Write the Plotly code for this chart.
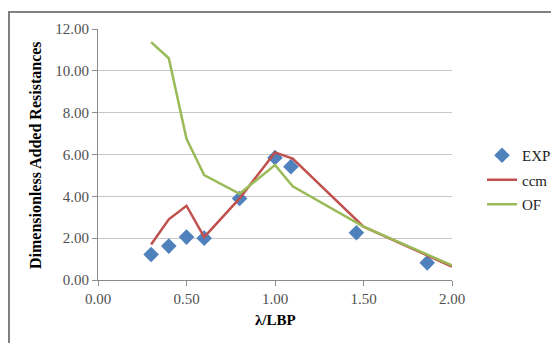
import plotly.graph_objects as go

exp_x = [0.30, 0.40, 0.50, 0.60, 0.80, 1.00, 1.09, 1.46, 1.86]
exp_y = [1.22, 1.62, 2.05, 2.00, 3.90, 5.85, 5.42, 2.26, 0.82]

ccm_x = [0.30, 0.40, 0.50, 0.60, 0.80, 1.00, 1.10, 1.50, 2.00]
ccm_y = [1.70, 2.90, 3.55, 2.05, 3.90, 6.10, 5.80, 2.55, 0.64]

of_x = [0.30, 0.40, 0.50, 0.60, 0.80, 1.00, 1.10, 1.50, 2.00]
of_y = [11.37, 10.60, 6.75, 5.02, 4.12, 5.50, 4.48, 2.55, 0.70]

x_ticks = [0.0, 0.5, 1.0, 1.5, 2.0]
y_ticks = [0, 2, 4, 6, 8, 10, 12]

FONT = "Liberation Serif, Times New Roman, serif"

fig = go.Figure()
fig.add_trace(go.Scatter(x=exp_x, y=exp_y, mode="markers", name="EXP",
                         legendgroup="a",
                         marker=dict(symbol="diamond", size=12, color="#4F81BD")))
fig.add_trace(go.Scatter(x=ccm_x, y=ccm_y, mode="lines", name="ccm",
                         legendgroup="b",
                         line=dict(color="#C0504D", width=2.5)))
fig.add_trace(go.Scatter(x=of_x, y=of_y, mode="lines", name="OF",
                         legendgroup="c",
                         line=dict(color="#9BBB59", width=2.5)))

# page body has an 8px margin, so figure coords = screen coords - 8
OFF = 8
W, H = 559 - OFF, 343 - OFF
L, R, T, B = 98 - OFF, 452 - OFF, 29 - OFF, 280 - OFF
pw, ph = R - L, B - T

def px(xs):
    return (xs - OFF - L) / pw

def py(ys):
    return (B - (ys - OFF)) / ph

fig.update_layout(
    width=W, height=H,
    margin=dict(l=L, r=W - R, t=T, b=H - B, autoexpand=False),
    paper_bgcolor="white", plot_bgcolor="white",
    font=dict(family=FONT, size=15, color="#595959"),
    showlegend=True,
    legend=dict(x=px(482), y=py(139), xanchor="left", yanchor="top",
                font=dict(family=FONT, size=15, color="#222222"),
                tracegroupgap=2, itemwidth=30, bgcolor="rgba(0,0,0,0)"),
    xaxis=dict(range=[0, 2], tickvals=x_ticks,
               ticktext=[f"{v:.2f}" for v in x_ticks],
               showgrid=False, zeroline=False, automargin=False,
               showline=True, linecolor="#8c8c8c", linewidth=1,
               ticks="outside", ticklen=5, tickcolor="#8c8c8c",
               tickfont=dict(family=FONT, size=15, color="#505050")),
    yaxis=dict(range=[0, 12], tickvals=y_ticks,
               ticktext=[f"{v:.2f}" for v in y_ticks],
               showgrid=True, gridcolor="#c8c8c8", gridwidth=1,
               zeroline=False, automargin=False,
               showline=True, linecolor="#8c8c8c", linewidth=1,
               ticks="outside", ticklen=5, tickcolor="#8c8c8c",
               tickfont=dict(family=FONT, size=15, color="#505050")),
)

# axis titles
fig.add_annotation(xref="paper", yref="paper", x=px(275), y=py(320),
                   text="<b>λ/LBP</b>", showarrow=False,
                   xanchor="center", yanchor="middle",
                   font=dict(family=FONT, size=15, color="#000000"))
fig.add_annotation(xref="paper", yref="paper", x=px(35), y=py(155),
                   text="<b>Dimensionless Added Resistances</b>", showarrow=False,
                   textangle=-90, xanchor="center", yanchor="middle",
                   font=dict(family=FONT, size=16, color="#000000"))

# outer chart border (only top and left edges visible in reference)
fig.add_shape(type="line", xref="paper", yref="paper",
              x0=px(8), x1=px(559), y0=py(12), y1=py(12),
              line=dict(color="#808080", width=2))
fig.add_shape(type="line", xref="paper", yref="paper",
              x0=px(9), x1=px(9), y0=py(12), y1=py(343),
              line=dict(color="#808080", width=2))

fig.write_html("out.html")
